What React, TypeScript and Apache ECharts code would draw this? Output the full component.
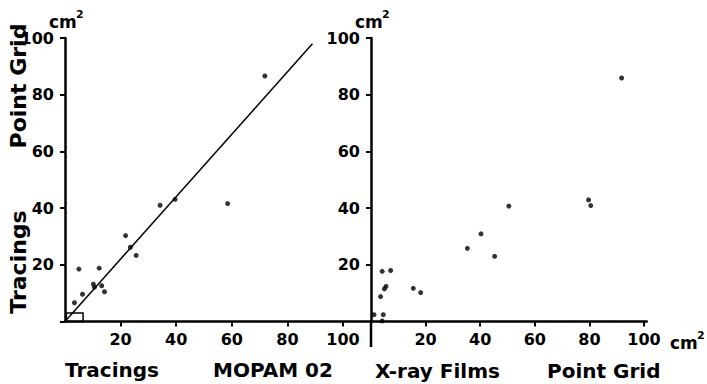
import React, { useEffect, useRef } from "react";
import * as echarts from "echarts";

// Left panel: Tracings (x) vs Point Grid / Tracings (y), MOPAM 02
const leftX = [71.9, 34.2, 39.6, 58.5, 21.8, 23.5, 25.6, 5.0, 12.3, 10.2, 10.6, 13.2, 14.2, 6.3, 3.4];
const leftY = [86.6, 41.0, 43.1, 41.6, 30.3, 26.2, 23.3, 18.5, 18.8, 13.2, 12.1, 12.6, 10.5, 9.6, 6.6];
// Right panel: X-ray Films vs Point Grid
const rightX = [91.8, 79.7, 80.5, 50.5, 40.3, 35.3, 45.3, 4.1, 7.2, 5.5, 4.9, 3.5, 15.5, 18.2, 1.1, 4.5, 4.1];
const rightY = [85.9, 42.9, 40.9, 40.7, 30.9, 25.8, 23.0, 17.7, 18.0, 12.4, 11.5, 8.8, 11.7, 10.2, 2.4, 2.4, 0.2];
// fitted line in left panel
const fitLine = [
  [0, 0],
  [89, 98],
];
// small box of clustered points near the origin (left panel)
const boxCorners = [
  [0.5, 0],
  [6.5, 3],
];
const tickLabels = [20, 40, 60, 80, 100];
const tickValues = [0, 20, 40, 60, 80, 100];

const FONT = "DejaVu Sans";

export default function App() {
  const ref = useRef<HTMLDivElement>(null);
  useEffect(() => {
    if (!ref.current) return;
    const chart = echarts.init(ref.current, undefined, { renderer: "svg" });
    const axisLine = { show: true, onZero: false, lineStyle: { color: "#000", width: 2.5 } };
    const axisTick = (vals: number[]) => ({
      show: true,
      length: 5,
      lineStyle: { color: "#000", width: 2 },
      customValues: vals,
    });
    const axisLabel = (margin: number) => ({
      color: "#000",
      fontFamily: FONT,
      fontWeight: "bold" as const,
      fontSize: 16,
      margin,
      customValues: tickLabels,
    });
    const txt = (
      text: string,
      x: number,
      y: number,
      size: number,
      opts: any = {}
    ) => ({
      type: "text",
      x,
      y,
      rotation: opts.rotation || 0,
      style: {
        text,
        fill: "#000",
        font: `bold ${size}px ${FONT}`,
        align: opts.align || "left",
        verticalAlign: opts.verticalAlign || "middle",
      },
    });
    const toPairs = (xs: number[], ys: number[]) => xs.map((x, i) => [x, ys[i]]);

    chart.setOption({
      animation: false,
      backgroundColor: "#fff",
      grid: [
        { left: 65, top: 38, width: 305.8, height: 283.5 },
        { left: 371, top: 38, width: 275.7, height: 283.5 },
      ],
      xAxis: [
        {
          gridIndex: 0,
          type: "value",
          min: 0,
          max: 110,
          axisLine,
          axisTick: axisTick(tickLabels),
          axisLabel: axisLabel(10),
          splitLine: { show: false },
        },
        {
          gridIndex: 1,
          type: "value",
          min: 0,
          max: 101,
          axisLine,
          axisTick: axisTick(tickLabels),
          axisLabel: axisLabel(10),
          splitLine: { show: false },
        },
      ],
      yAxis: [
        {
          gridIndex: 0,
          type: "value",
          min: 0,
          max: 100,
          axisLine,
          axisTick: axisTick(tickValues),
          axisLabel: axisLabel(11),
          splitLine: { show: false },
        },
        {
          gridIndex: 1,
          type: "value",
          min: 0,
          max: 100,
          axisLine,
          axisTick: axisTick(tickLabels),
          axisLabel: axisLabel(11),
          splitLine: { show: false },
        },
      ],
      series: [
        {
          type: "line",
          xAxisIndex: 0,
          yAxisIndex: 0,
          data: fitLine,
          symbol: "none",
          lineStyle: { color: "#000", width: 1.5 },
          z: 2,
        },
        {
          type: "scatter",
          xAxisIndex: 0,
          yAxisIndex: 0,
          data: toPairs(leftX, leftY),
          symbolSize: 5,
          itemStyle: { color: "#000" },
          markArea: {
            silent: true,
            itemStyle: { color: "rgba(0,0,0,0)", borderColor: "#000", borderWidth: 1.5 },
            data: [[{ coord: boxCorners[0] }, { coord: boxCorners[1] }]],
          },
        },
        {
          type: "scatter",
          xAxisIndex: 1,
          yAxisIndex: 1,
          data: toPairs(rightX, rightY),
          symbolSize: 5,
          itemStyle: { color: "#000" },
        },
      ],
      graphic: [
        {
          type: "line",
          shape: { x1: 371, y1: 321.5, x2: 371, y2: 347 },
          style: { stroke: "#000", lineWidth: 2.5 },
        },
        txt("cm", 49, 22, 17),
        txt("2", 76, 14, 11),
        txt("cm", 355, 22, 17),
        txt("2", 382, 14, 11),
        txt("cm", 670, 343, 17),
        txt("2", 697, 335, 11),
        txt("Point Grid", 18, 86, 22, { rotation: Math.PI / 2, align: "center" }),
        txt("Tracings", 18, 262, 22, { rotation: Math.PI / 2, align: "center" }),
        txt("Tracings", 65, 370, 20),
        txt("MOPAM 02", 213, 370, 20),
        txt("X-ray Films", 375, 371, 20),
        txt("Point Grid", 547, 371, 20),
      ],
    });
    return () => chart.dispose();
  }, []);
  return (
    <div
      ref={ref}
      style={{ position: "fixed", left: 0, top: 0, width: 707, height: 384, background: "#fff" }}
    />
  );
}
